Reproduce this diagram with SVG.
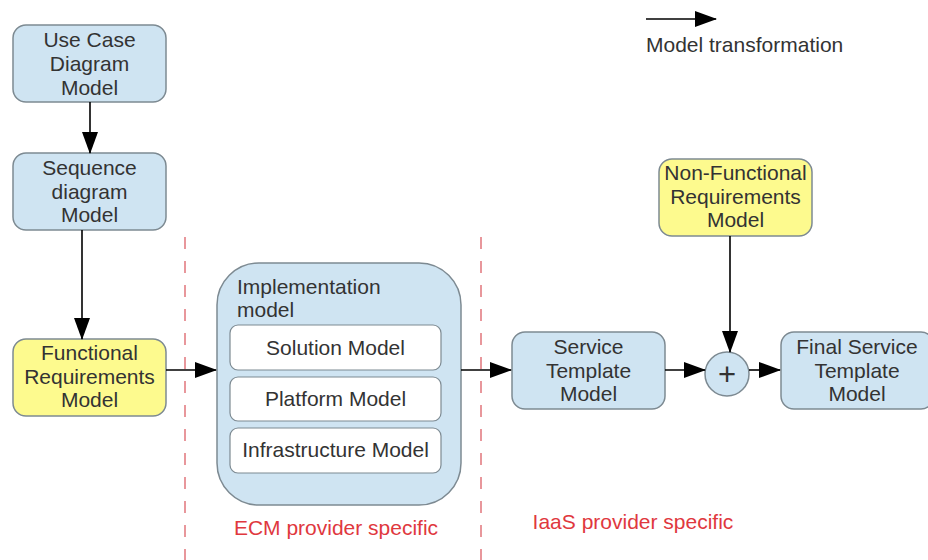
<svg xmlns="http://www.w3.org/2000/svg" width="928" height="560" viewBox="0 0 928 560">
  <defs>
    <marker id="arrow" markerUnits="userSpaceOnUse" markerWidth="22" markerHeight="16" viewBox="0 0 22 16" refX="21" refY="8" orient="auto">
      <path d="M0,0 L22,8 L0,16 Z" fill="#000"/>
    </marker>
    <style>
      .box { fill: #cfe4f2; stroke: #7d8a92; stroke-width: 1.5; }
      .req { fill: #fdfa8e; stroke: #7d8a92; stroke-width: 1.5; }
      .inner { fill: #ffffff; stroke: #7d8a92; stroke-width: 1.2; }
      .lbl { font-family: "Liberation Sans", Arial, sans-serif; font-size: 21px; fill: #333333; text-anchor: middle; }
      .lft { text-anchor: start; }
      .note { font-family: "Liberation Sans", Arial, sans-serif; font-size: 21px; fill: #e0383e; }
      .edge { stroke: #000; stroke-width: 1.6; fill: none; marker-end: url(#arrow); }
      .zone { stroke: #d9535a; stroke-width: 1.2; stroke-dasharray: 12 12; fill: none; }
    </style>
  </defs>

  <!-- provider boundaries -->
  <g id="zones">
    <line class="zone" x1="185" y1="237" x2="185" y2="560"/>
    <line class="zone" x1="481" y1="237" x2="481" y2="560"/>
    <text class="note" x="336" y="535" text-anchor="middle">ECM provider specific</text>
    <text class="note" x="633" y="529" text-anchor="middle">IaaS provider specific</text>
  </g>

  <!-- legend -->
  <g id="legend">
    <line class="edge" x1="646" y1="19" x2="716" y2="19"/>
    <text class="lbl lft" x="646" y="52">Model transformation</text>
  </g>

  <g id="use-case">
    <rect class="box" x="13" y="25" width="153" height="77" rx="13"/>
    <text class="lbl" x="89.5" y="47">Use Case</text>
    <text class="lbl" x="89.5" y="71">Diagram</text>
    <text class="lbl" x="89.5" y="95">Model</text>
  </g>

  <g id="sequence">
    <rect class="box" x="13" y="153" width="153" height="77" rx="13"/>
    <text class="lbl" x="89.5" y="175">Sequence</text>
    <text class="lbl" x="89.5" y="199">diagram</text>
    <text class="lbl" x="89.5" y="222">Model</text>
  </g>

  <g id="functional">
    <rect class="req" x="13" y="339" width="153" height="77" rx="13"/>
    <text class="lbl" x="89.5" y="360">Functional</text>
    <text class="lbl" x="89.5" y="384">Requirements</text>
    <text class="lbl" x="89.5" y="407">Model</text>
  </g>

  <g id="implementation">
    <rect class="box" x="217" y="263" width="244" height="242" rx="42"/>
    <text class="lbl lft" x="237" y="294">Implementation</text>
    <text class="lbl lft" x="237" y="317">model</text>
    <g id="solution">
      <rect class="inner" x="230" y="325" width="211" height="45" rx="8"/>
      <text class="lbl" x="335.5" y="355">Solution Model</text>
    </g>
    <g id="platform">
      <rect class="inner" x="230" y="377" width="211" height="44" rx="8"/>
      <text class="lbl" x="335.5" y="406">Platform Model</text>
    </g>
    <g id="infrastructure">
      <rect class="inner" x="230" y="428" width="211" height="45" rx="8"/>
      <text class="lbl" x="335.5" y="457">Infrastructure Model</text>
    </g>
  </g>

  <g id="service-template">
    <rect class="box" x="512" y="332" width="153" height="77" rx="13"/>
    <text class="lbl" x="588.5" y="354">Service</text>
    <text class="lbl" x="588.5" y="378">Template</text>
    <text class="lbl" x="588.5" y="401">Model</text>
  </g>

  <g id="non-functional">
    <rect class="req" x="659" y="159" width="153" height="77" rx="13"/>
    <text class="lbl" x="735.5" y="180">Non-Functional</text>
    <text class="lbl" x="735.5" y="204">Requirements</text>
    <text class="lbl" x="735.5" y="227">Model</text>
  </g>

  <g id="merge">
    <circle class="box" cx="727" cy="374" r="22"/>
    <text class="lbl" x="727" y="385" style="font-size:31px">+</text>
  </g>

  <g id="final-template">
    <rect class="box" x="781" y="332" width="153" height="77" rx="13"/>
    <text class="lbl" x="857" y="354">Final Service</text>
    <text class="lbl" x="857" y="378">Template</text>
    <text class="lbl" x="857" y="401">Model</text>
  </g>

  <g id="connectors">
    <line class="edge" x1="90" y1="102" x2="90" y2="153"/>
    <line class="edge" x1="82" y1="230" x2="82" y2="339"/>
    <line class="edge" x1="166" y1="370" x2="216" y2="370"/>
    <line class="edge" x1="461" y1="370" x2="511" y2="370"/>
    <line class="edge" x1="665" y1="370" x2="705" y2="370"/>
    <line class="edge" x1="730" y1="236" x2="730" y2="352"/>
    <line class="edge" x1="749" y1="370" x2="780" y2="370"/>
  </g>
</svg>
